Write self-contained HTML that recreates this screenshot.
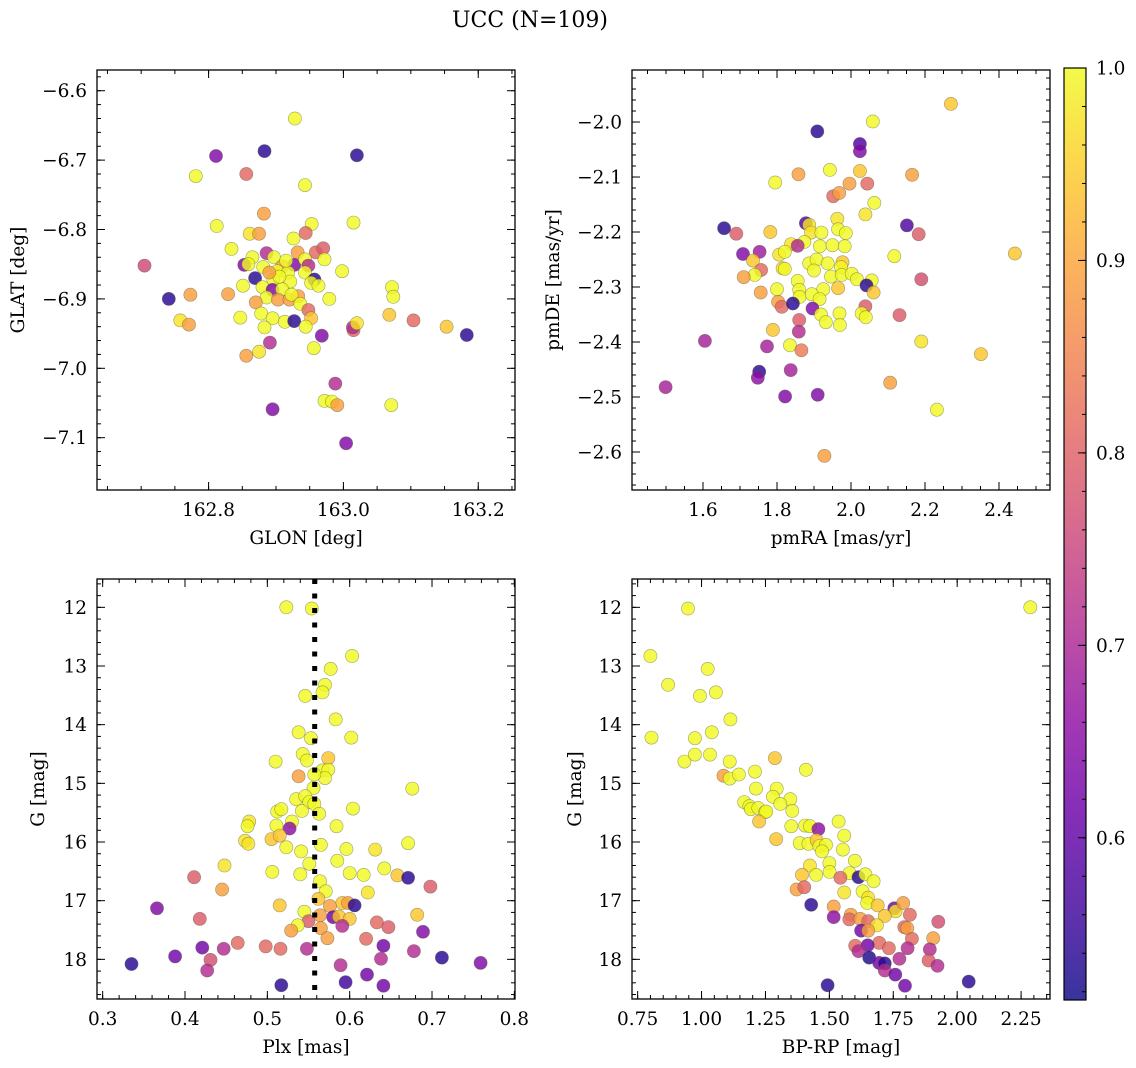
<!DOCTYPE html>
<html><head><meta charset="utf-8"><title>UCC (N=109)</title>
<style>
html,body{margin:0;padding:0;background:#fff;}
svg{display:block;font-family:"DejaVu Serif","Liberation Serif",serif;}
</style></head>
<body>
<svg id="fig" width="1136" height="1068" viewBox="0 0 1136 1068" xmlns="http://www.w3.org/2000/svg">
<defs>
<linearGradient id="plasma" x1="0" y1="1" x2="0" y2="0">
<stop offset="0" stop-color="#0d0887"/><stop offset="0.1" stop-color="#41049d"/><stop offset="0.2" stop-color="#6a00a8"/><stop offset="0.3" stop-color="#8f0da4"/><stop offset="0.4" stop-color="#b12a90"/><stop offset="0.5" stop-color="#cc4778"/><stop offset="0.6" stop-color="#e16462"/><stop offset="0.7" stop-color="#f2844b"/><stop offset="0.8" stop-color="#fca636"/><stop offset="0.9" stop-color="#fcce25"/><stop offset="1" stop-color="#f0f921"/>
</linearGradient>
</defs>
<text x="530" y="27" text-anchor="middle" font-size="22">UCC (N=109)</text>
</svg>
<script>
// ---- Panel 1: GLON / GLAT ----
const glon=[162.928,162.811,162.883,163.020,162.856,162.781,162.943,162.882,162.812,163.015,162.953,162.944,162.861,162.875,162.926,162.834,162.886,162.959,162.970,162.932,162.865,162.897,162.705,162.853,162.859,162.927,162.943,162.972,162.909,162.948,162.881,162.902,162.918,162.943,162.998,162.869,162.896,162.921,162.957,162.952,162.851,162.880,162.963,163.072,162.895,162.909,162.741,162.773,162.829,162.886,162.903,162.920,162.933,162.923,162.979,163.074,162.870,162.936,162.948,163.068,162.758,162.771,162.847,162.878,162.895,162.913,162.927,162.952,162.944,162.883,163.104,163.153,163.183,162.968,163.015,163.014,163.020,162.891,162.856,162.875,162.956,162.988,162.972,162.983,162.991,163.071,162.895,163.004,162.905,162.915,162.890];
const glat=[-6.640,-6.694,-6.687,-6.693,-6.720,-6.723,-6.736,-6.777,-6.795,-6.790,-6.792,-6.805,-6.806,-6.806,-6.813,-6.828,-6.834,-6.833,-6.827,-6.833,-6.840,-6.840,-6.852,-6.851,-6.850,-6.851,-6.843,-6.843,-6.853,-6.852,-6.854,-6.860,-6.862,-6.862,-6.860,-6.870,-6.872,-6.875,-6.872,-6.877,-6.881,-6.883,-6.881,-6.883,-6.887,-6.886,-6.900,-6.894,-6.893,-6.898,-6.901,-6.901,-6.896,-6.894,-6.900,-6.897,-6.905,-6.907,-6.916,-6.923,-6.931,-6.937,-6.927,-6.921,-6.928,-6.933,-6.932,-6.928,-6.940,-6.941,-6.931,-6.940,-6.952,-6.953,-6.945,-6.941,-6.935,-6.963,-6.982,-6.976,-6.971,-7.022,-7.047,-7.048,-7.053,-7.053,-7.059,-7.108,-6.868,-6.845,-6.862];
const prob1=[1,0.64,0.54,0.54,0.81,1,1,0.89,1,1,1,0.81,0.975,0.89,1,1,0.71,0.81,0.79,0.89,1,1,0.76,0.64,1,0.64,1,1,0.89,0.71,1,1,1,1,1,0.54,1,1,0.54,1,1,1,1,1,0.64,1,0.54,0.89,0.89,1,0.89,0.89,0.89,1,1,1,0.89,1,0.81,0.94,0.975,0.89,1,1,1,1,0.54,0.94,1,1,0.81,0.94,0.54,0.64,0.81,0.71,0.975,0.71,0.89,0.975,1,0.71,1,1,0.89,1,0.64,0.64,1,1,0.89];
// ---- Panel 2: pmRA / pmDE ----
const pmra=[2.270,2.059,1.909,2.024,2.024,1.943,2.024,1.858,2.165,1.795,1.996,2.044,1.952,1.968,2.063,2.039,1.963,1.878,1.887,1.657,2.151,1.690,1.782,1.892,1.920,1.965,1.986,2.183,1.874,1.838,1.856,1.916,1.950,1.983,1.708,1.753,1.806,1.821,2.117,2.443,1.735,1.887,1.907,1.937,1.977,1.815,1.821,1.757,1.900,1.973,1.740,1.710,1.946,1.975,2.002,2.016,2.190,1.856,2.056,2.042,1.800,1.756,1.860,1.925,1.965,2.061,1.861,1.894,1.915,1.803,1.813,1.843,1.896,2.039,1.919,1.969,2.029,2.040,1.932,1.970,2.131,1.860,1.789,1.859,1.605,2.190,1.773,1.835,1.866,2.351,1.752,1.748,1.837,1.499,2.106,1.822,1.910,2.232,1.928];
const pmde=[-1.967,-1.999,-2.017,-2.040,-2.053,-2.087,-2.089,-2.095,-2.096,-2.110,-2.112,-2.112,-2.135,-2.129,-2.147,-2.168,-2.176,-2.184,-2.187,-2.193,-2.188,-2.203,-2.200,-2.201,-2.201,-2.195,-2.202,-2.204,-2.218,-2.222,-2.225,-2.226,-2.224,-2.226,-2.240,-2.236,-2.241,-2.236,-2.244,-2.239,-2.252,-2.257,-2.250,-2.257,-2.255,-2.266,-2.267,-2.269,-2.270,-2.264,-2.278,-2.282,-2.281,-2.278,-2.276,-2.286,-2.286,-2.289,-2.288,-2.297,-2.304,-2.310,-2.305,-2.304,-2.302,-2.310,-2.318,-2.313,-2.322,-2.327,-2.336,-2.330,-2.339,-2.335,-2.350,-2.348,-2.348,-2.355,-2.364,-2.369,-2.351,-2.360,-2.378,-2.381,-2.398,-2.399,-2.408,-2.406,-2.415,-2.422,-2.454,-2.465,-2.451,-2.482,-2.474,-2.499,-2.496,-2.523,-2.607];
const prob2=[0.94,1,0.54,0.58,0.64,1,0.94,0.89,0.89,1,0.89,0.81,0.81,0.89,1,0.975,0.975,0.58,0.975,0.54,0.58,0.79,0.94,0.975,1,1,1,0.79,1,0.975,0.71,1,1,1,0.64,0.68,0.975,1,1,0.94,0.94,1,1,1,0.94,0.975,1,0.81,1,1,1,0.89,1,1,1,1,0.77,1,1,0.54,1,0.89,1,1,0.94,0.94,1,1,1,0.89,0.81,0.54,0.64,0.79,1,1,1,1,1,1,0.79,0.79,0.94,0.71,0.69,0.975,0.69,1,0.84,0.94,0.54,0.66,0.69,0.69,0.89,0.64,0.64,1,0.89];
// ---- Panel 3: Plx / G ----
const plx=[0.523,0.554,0.603,0.577,0.570,0.567,0.546,0.583,0.602,0.538,0.553,0.510,0.543,0.548,0.574,0.538,0.567,0.574,0.570,0.557,0.556,0.676,0.535,0.546,0.551,0.557,0.563,0.604,0.512,0.517,0.542,0.530,0.478,0.476,0.511,0.527,0.584,0.473,0.477,0.505,0.515,0.523,0.541,0.565,0.596,0.631,0.671,0.585,0.551,0.448,0.411,0.506,0.540,0.600,0.617,0.642,0.658,0.671,0.698,0.564,0.445,0.571,0.622,0.562,0.515,0.366,0.591,0.598,0.606,0.576,0.545,0.564,0.580,0.587,0.600,0.682,0.418,0.550,0.537,0.591,0.633,0.647,0.529,0.565,0.689,0.573,0.620,0.464,0.498,0.516,0.421,0.447,0.548,0.641,0.678,0.388,0.431,0.638,0.712,0.335,0.759,0.589,0.427,0.621,0.595,0.517,0.641];
const gmag3=[12.00,12.02,12.83,13.05,13.32,13.45,13.51,13.91,14.22,14.13,14.23,14.63,14.50,14.61,14.57,14.88,14.78,14.77,14.91,14.85,15.08,15.09,15.27,15.22,15.32,15.35,15.52,15.43,15.48,15.44,15.47,15.65,15.65,15.73,15.72,15.77,15.73,15.98,16.03,15.95,15.89,16.09,16.16,16.05,16.12,16.13,16.02,16.32,16.37,16.40,16.60,16.51,16.55,16.53,16.56,16.45,16.57,16.61,16.76,16.67,16.81,16.84,16.86,16.97,17.08,17.13,17.04,17.04,17.08,17.09,17.19,17.25,17.28,17.27,17.31,17.24,17.31,17.35,17.42,17.43,17.37,17.45,17.51,17.47,17.53,17.64,17.65,17.72,17.78,17.82,17.80,17.82,17.82,17.77,17.86,17.95,18.01,17.99,17.97,18.08,18.06,18.10,18.19,18.26,18.39,18.44,18.45];
const prob3=[1,1,1,1,1,1,1,1,1,1,1,1,1,1,0.94,0.89,1,1,1,1,1,1,1,1,1,1,1,1,1,1,1,1,0.975,1,1,0.66,1,0.975,0.975,0.94,0.94,1,1,1,1,0.975,1,1,1,0.975,0.79,1,1,1,1,1,0.94,0.54,0.79,1,0.89,1,0.975,0.94,0.94,0.64,0.94,0.89,0.54,0.89,1,0.89,0.62,0.94,0.94,0.94,0.79,0.79,1,0.71,0.81,0.79,0.89,0.89,0.64,0.89,0.81,0.81,0.81,0.81,0.62,0.71,0.71,0.62,0.71,0.62,0.77,0.71,0.54,0.54,0.64,0.71,0.71,0.62,0.56,0.54,0.62];
// ---- Panel 4: BP-RP / G ----
const bprp=[0.947,2.286,0.800,1.024,0.869,0.994,1.056,1.113,0.804,0.974,1.040,0.933,0.974,1.033,1.110,1.287,1.408,1.086,1.110,1.146,1.209,1.213,1.294,1.279,1.347,1.308,1.167,1.187,1.193,1.222,1.249,1.253,1.355,1.225,1.351,1.405,1.424,1.457,1.536,1.558,1.292,1.384,1.418,1.450,1.461,1.487,1.471,1.553,1.424,1.500,1.501,1.600,1.393,1.448,1.579,1.543,1.614,1.641,1.673,1.372,1.402,1.558,1.630,1.652,1.648,1.689,1.429,1.517,1.517,1.754,1.759,1.789,1.717,1.584,1.578,1.621,1.652,1.686,1.815,1.926,1.793,1.805,1.624,1.652,1.906,1.823,1.601,1.695,1.733,1.650,1.614,1.806,1.893,1.656,1.774,1.888,1.695,1.717,1.923,1.717,1.758,2.045,1.493,1.796];
const gmag4=[12.02,12.00,12.83,13.05,13.32,13.51,13.45,13.91,14.22,14.23,14.13,14.63,14.51,14.51,14.63,14.57,14.77,14.87,14.92,14.85,14.80,15.09,15.09,15.23,15.27,15.35,15.32,15.39,15.44,15.42,15.49,15.48,15.47,15.65,15.73,15.72,15.73,15.78,15.65,15.89,15.95,16.02,16.03,15.97,16.07,16.05,16.16,16.13,16.40,16.36,16.51,16.32,16.56,16.56,16.53,16.61,16.60,16.55,16.67,16.81,16.77,16.86,16.84,16.95,17.04,17.08,17.07,17.10,17.28,17.13,17.18,17.04,17.26,17.24,17.32,17.31,17.35,17.42,17.24,17.36,17.45,17.47,17.51,17.51,17.64,17.65,17.77,17.72,17.81,17.76,17.86,17.81,17.83,17.97,17.99,18.02,18.06,18.07,18.11,18.19,18.26,18.38,18.44,18.45];
const prob4=[1,1,1,1,1,1,1,1,1,1,1,1,1,1,1,0.94,1,0.89,1,1,1,1,1,1,1,1,1,1,1,1,1,1,1,0.94,1,1,1,0.66,1,1,0.94,1,1,0.94,1,1,1,1,0.975,1,1,1,0.94,1,1,0.81,0.54,1,1,0.89,0.81,0.975,1,0.975,1,0.94,0.54,0.89,0.66,0.62,0.975,0.89,0.94,0.89,0.81,0.89,0.81,0.975,0.81,0.77,0.81,0.89,0.62,0.89,0.89,0.81,0.81,0.81,0.81,0.62,0.71,0.71,0.71,0.53,0.71,0.79,0.62,0.54,0.71,0.71,0.62,0.54,0.54,0.62];
// ---- Tick labels ----
const p1xTicks=[162.8,163.0,163.2];
const p1yTicks=[-6.6,-6.7,-6.8,-6.9,-7.0,-7.1];
const p2xTicks=[1.6,1.8,2.0,2.2,2.4];
const p2yTicks=[-2.0,-2.1,-2.2,-2.3,-2.4,-2.5,-2.6];
const p3xTicks=[0.3,0.4,0.5,0.6,0.7,0.8];
const gTicks=[12,13,14,15,16,17,18];
const p4xTicks=[0.75,1.00,1.25,1.50,1.75,2.00,2.25];
const cbTicks=[0.6,0.7,0.8,0.9,1.0];
const plxMedian=[0.5575];

const NS="http://www.w3.org/2000/svg";
const svg=document.getElementById('fig');
const CMIN=0.5157, CMAX=1.0;
const FS=18.5;
const stops=[[13,8,135],[65,4,157],[106,0,168],[143,13,164],[177,42,144],[204,71,120],[225,100,98],[242,132,75],[252,166,54],[252,206,37],[240,249,33]];
function plasma(v){let t=(v-CMIN)/(CMAX-CMIN);t=Math.max(0,Math.min(1,t));const s=t*10;const i=Math.min(9,Math.floor(s));const f=s-i;const a=stops[i],b=stops[i+1];return 'rgb('+[0,1,2].map(k=>Math.round(a[k]+(b[k]-a[k])*f)).join(',')+')';}
function el(tag,attrs,parent){const e=document.createElementNS(NS,tag);for(const k in attrs)e.setAttribute(k,attrs[k]);(parent||svg).appendChild(e);return e;}
function fmt(v,d){const s=Math.abs(v).toFixed(d);return (v<0?'\u2212':'')+s;}

function panel(o){
  const g=el('g',{});
  
  
  const X=v=>o.x0+(v-o.xmin)/(o.xmax-o.xmin)*(o.x1-o.x0);
  const Y=v=>o.y0+(v-o.ymin)/(o.ymax-o.ymin)*(o.y1-o.y0);
  const T=o.y0+1,B=o.y1-1;
  const bl=o.x0+1, br=o.x1-1;
  const pts=el('g',{},g);
  
  
  for(let i=0;i<o.xs.length;i++){
    const c=el('circle',{cx:X(o.xs[i]).toFixed(1),cy:Y(o.ys[i]).toFixed(1),r:6.6,fill:plasma(o.cs[i]),'fill-opacity':0.82,stroke:'rgba(90,90,60,0.55)','stroke-width':0.6},pts);
    
    
  }
  if(o.vline){for(const v of o.vline){const ln=el('line',{x1:X(v),x2:X(v),y1:T,y2:B,stroke:'#000','stroke-width':5,'stroke-dasharray':'5 9.5'},g);
    
    }}
  const fr=el('rect',{x:bl,y:T,width:br-bl,height:B-T,fill:'none',stroke:'#000','stroke-width':1.3},g);
  
  
  const tk=el('g',{stroke:'#000','stroke-width':1},g);
  function xt(v,len){const x=X(v);if(x<bl-0.5||x>br+0.5)return;el('line',{x1:x,x2:x,y1:B,y2:B-len},tk);el('line',{x1:x,x2:x,y1:T,y2:T+len},tk);}
  function yt(v,len){const y=Y(v);if(y<T-0.5||y>B+0.5)return;el('line',{x1:bl,x2:bl+len,y1:y,y2:y},tk);el('line',{x1:br,x2:br-len,y1:y,y2:y},tk);}
  const xlo=Math.min(o.xmin,o.xmax),xhi=Math.max(o.xmin,o.xmax);
  for(let v=Math.ceil(xlo/o.xminor)*o.xminor;v<=xhi;v+=o.xminor)xt(v,4);
  const ylo=Math.min(o.ymin,o.ymax),yhi=Math.max(o.ymin,o.ymax);
  for(let v=Math.ceil(ylo/o.yminor)*o.yminor;v<=yhi;v+=o.yminor)yt(v,4);
  for(const v of o.xt){xt(v,8);
    const t=el('text',{x:X(v),y:B+26,'text-anchor':'middle','font-size':FS},g);t.textContent=fmt(v,o.xd);
    
    }
  for(const v of o.yt){yt(v,8);
    const t=el('text',{x:bl-10,y:Y(v)+6.5,'text-anchor':'end','font-size':FS},g);t.textContent=fmt(v,o.yd);
    
    }
  const xl=el('text',{x:(bl+br)/2,y:B+54,'text-anchor':'middle','font-size':FS},g);xl.textContent=o.xlabel;
  
  
  const yl=el('text',{x:o.ylx,y:(T+B)/2,'text-anchor':'middle','font-size':FS,transform:'rotate(-90 '+o.ylx+' '+((T+B)/2)+')'},g);yl.textContent=o.ylabel;
  
  
}

panel({name:'glon-glat-panel',x0:96,x1:516,y0:69,y1:491,xmin:162.633,xmax:163.256,ymin:-6.5687,ymax:-7.1768,xs:glon,ys:glat,cs:prob1,xt:p1xTicks,yt:p1yTicks,xd:1,yd:1,xminor:0.05,yminor:0.02,xlabel:'GLON [deg]',ylabel:'GLAT [deg]',ylx:24});
panel({name:'proper-motion-panel',x0:631,x1:1051,y0:69,y1:491,xmin:1.4054,xmax:2.5405,ymin:-1.9036,ymax:-2.6709,xs:pmra,ys:pmde,cs:prob2,xt:p2xTicks,yt:p2yTicks,xd:1,yd:1,xminor:0.05,yminor:0.02,xlabel:'pmRA [mas/yr]',ylabel:'pmDE [mas/yr]',ylx:559});
panel({name:'plx-g-panel',x0:96,x1:516,y0:578,y1:1000,xmin:0.2919,xmax:0.802,ymin:11.5,ymax:18.693,xs:plx,ys:gmag3,cs:prob3,xt:p3xTicks,yt:gTicks,xd:1,yd:0,xminor:0.02,yminor:0.2,xlabel:'Plx [mas]',ylabel:'G [mag]',ylx:44,vline:plxMedian});
panel({name:'cmd-panel',x0:631,x1:1051,y0:578,y1:1000,xmin:0.724,xmax:2.367,ymin:11.5,ymax:18.693,xs:bprp,ys:gmag4,cs:prob4,xt:p4xTicks,yt:gTicks,xd:2,yd:0,xminor:0.05,yminor:0.2,xlabel:'BP-RP [mag]',ylabel:'G [mag]',ylx:581});

(function(){
  const g=el('g',{});
  
  
  const x0=1064,x1=1086,y0=68,y1=1000;
  const Yc=v=>y1-(v-CMIN)/(CMAX-CMIN)*(y1-y0);
  el('rect',{x:x0,y:y0,width:x1-x0,height:y1-y0,fill:'url(#plasma)','fill-opacity':0.82},g);
  el('rect',{x:x0,y:y0,width:x1-x0,height:y1-y0,fill:'none',stroke:'#000','stroke-width':1.2},g);
  for(let v=0.52;v<=1.0001;v+=0.02){const y=Yc(v);el('line',{x1:x1,x2:x1-4,y1:y,y2:y,stroke:'#000','stroke-width':1},g);}
  for(const v of cbTicks){const y=Yc(v);el('line',{x1:x1,x2:x1-8,y1:y,y2:y,stroke:'#000','stroke-width':1},g);
    const t=el('text',{x:x1+10,y:y+6.5,'font-size':FS},g);t.textContent=v.toFixed(1);
    
    }
})();
</script>
</body></html>
